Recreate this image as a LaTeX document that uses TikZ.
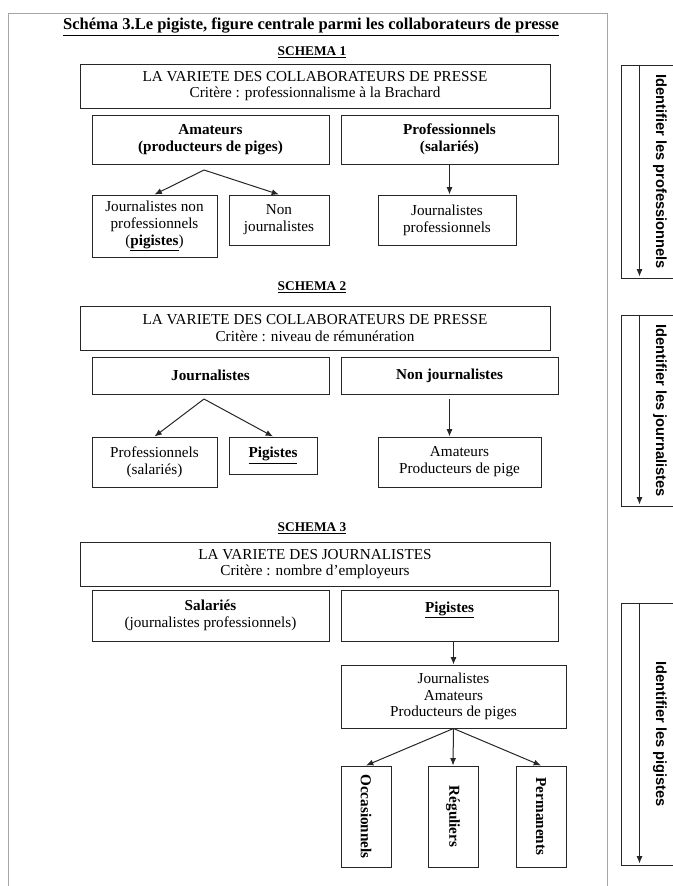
\documentclass[tikz,border=0pt]{standalone}
\usepackage{fontspec}
\setmainfont{Liberation Serif}
\newfontfamily\sidefont{Liberation Sans}
\usepackage{tikz}
\usetikzlibrary{arrows.meta}
\definecolor{boxgray}{gray}{0.15}
\definecolor{framegray}{gray}{0.65}

\begin{document}
\begin{tikzpicture}[
    x=0.75pt, y=-0.75pt,
    every node/.style={font=\fontsize{11.4}{12.6}\selectfont, align=center, inner sep=0pt},
    schema/.style={font=\fontsize{10}{12}\selectfont\bfseries},
    head/.style={rectangle, draw=boxgray, line width=0.75pt, minimum width=352.5pt, minimum height=33pt},
    cat/.style={rectangle, draw=boxgray, line width=0.75pt},
    leaf/.style={rectangle, draw=boxgray, line width=0.75pt, minimum width=37.5pt, minimum height=75.75pt, font=\fontsize{11.4}{12.6}\selectfont\bfseries},
    side/.style={rectangle, draw=boxgray, line width=0.75pt, minimum width=58.5pt, font=\fontsize{11}{12}\selectfont\sidefont\bfseries},
    arrow/.style={line width=0.75pt, draw=boxgray, -{Latex[length=5.5pt,width=4.5pt]}}
]
    \useasboundingbox (0,0) rectangle (673,886);

    % Frame and title
    \draw[framegray, line width=0.7pt] (8,895) -- (8,13) -- (607,13) -- (607,895);
    \node (title) at (311,27) {\fontsize{12.4}{14}\selectfont\textbf{\underline{Schéma 3.Le pigiste, figure centrale parmi les collaborateurs de presse}}};

    % Schema 1
    \node[schema] (sch1) at (312,52) {\underline{SCHEMA 1}};
    \node[head] (head1) at (315,86) {LA VARIETE DES COLLABORATEURS DE PRESSE\\Critère : professionnalisme à la Brachard};
    \node[cat, minimum width=177.75pt, minimum height=36.75pt] (amat1) at (210.5,139.5) {\textbf{Amateurs}\\\textbf{(producteurs de piges)}};
    \node[cat, minimum width=162.75pt, minimum height=36.75pt] (prof1) at (449.5,139.5) {\textbf{Professionnels}\\\textbf{(salariés)}};
    \node[cat, minimum width=93.75pt, minimum height=46.5pt] (jnp1) at (154.5,226) {Journalistes non\\professionnels\\(\textbf{\underline{pigistes}})};
    \node[cat, minimum width=75pt, minimum height=37.5pt] (nj1) at (279,220) {Non\\journalistes};
    \node[cat, minimum width=103.5pt, minimum height=37.5pt] (jp1) at (447,220) {Journalistes\\professionnels};
    \coordinate (fork1) at (204,170);
    \draw[arrow] (fork1) -- (jnp1.north);
    \draw[arrow] (fork1) -- (nj1.north);
    \draw[arrow] (prof1.south) -- (prof1.south |- jp1.north);

    % Schema 2
    \node[schema] (sch2) at (312,287) {\underline{SCHEMA 2}};
    \node[head] (head2) at (315,328) {LA VARIETE DES COLLABORATEURS DE PRESSE\\Critère : niveau de rémunération};
    \node[cat, minimum width=177.75pt, minimum height=27.75pt] (journ2) at (210.5,375.5) {\textbf{Journalistes}};
    \node[cat, minimum width=162.75pt, minimum height=27.75pt] (nj2) at (449.5,375.5) {\textbf{Non journalistes}};
    \node[cat, minimum width=93.75pt, minimum height=37.5pt] (prof2) at (154.5,462) {Professionnels\\(salariés)};
    \node[cat, minimum width=66pt, minimum height=27.75pt] (pig2) at (273,455.5) {\textbf{\underline{Pigistes}}};
    \node[cat, minimum width=122.25pt, minimum height=37.5pt] (amat2) at (459.5,462) {Amateurs\\Producteurs de pige};
    \coordinate (fork2) at (204,399);
    \draw[arrow] (fork2) -- (prof2.north);
    \draw[arrow] (fork2) -- (pig2.north);
    \draw[arrow] ([yshift=-3pt]nj2.south) -- (nj2.south |- amat2.north);

    % Schema 3
    \node[schema] (sch3) at (312,528) {\underline{SCHEMA 3}};
    \node[head] (head3) at (315,564) {LA VARIETE DES JOURNALISTES\\Critère : nombre d’employeurs};
    \node[cat, minimum width=177.75pt, minimum height=38.25pt] (sal3) at (210.5,615.5) {\textbf{Salariés}\\(journalistes professionnels)};
    \node[cat, minimum width=162.75pt, minimum height=38.25pt] (pig3) at (449.5,615.5) {\textbf{\underline{Pigistes}}\\\mbox{}};
    \node[cat, minimum width=168.75pt, minimum height=47.25pt] (jap3) at (453.5,696.5) {Journalistes\\Amateurs\\Producteurs de piges};
    \node[leaf] (occ3) at (366,816.5) {\rotatebox{-90}{Occasionnels}};
    \node[leaf] (reg3) at (453,816.5) {\rotatebox{-90}{Réguliers}};
    \node[leaf] (perm3) at (541,816.5) {\rotatebox{-90}{Permanents}};
    \draw[arrow] (pig3.south -| jap3.north) -- (jap3.north);
    \draw[arrow] (jap3.south) -- (occ3.north);
    \draw[arrow] (jap3.south) -- (reg3.north);
    \draw[arrow] (jap3.south) -- (perm3.north);

    % Side panels
    \node[side, minimum height=159.75pt] (side1) at (660,171.5) {\rotatebox{-90}{Identifier les professionnels}};
    \node[side, minimum height=143.25pt] (side2) at (660,410.5) {\rotatebox{-90}{Identifier les journalistes}};
    \node[side, minimum height=196.5pt] (side3) at (660,734) {\rotatebox{-90}{Identifier les pigistes}};
    \foreach \s in {side1,side2,side3}
        \draw[arrow] ([xshift=14.25pt]\s.north west) -- ([xshift=14.25pt,yshift=1.5pt]\s.south west);

\end{tikzpicture}
\end{document}
